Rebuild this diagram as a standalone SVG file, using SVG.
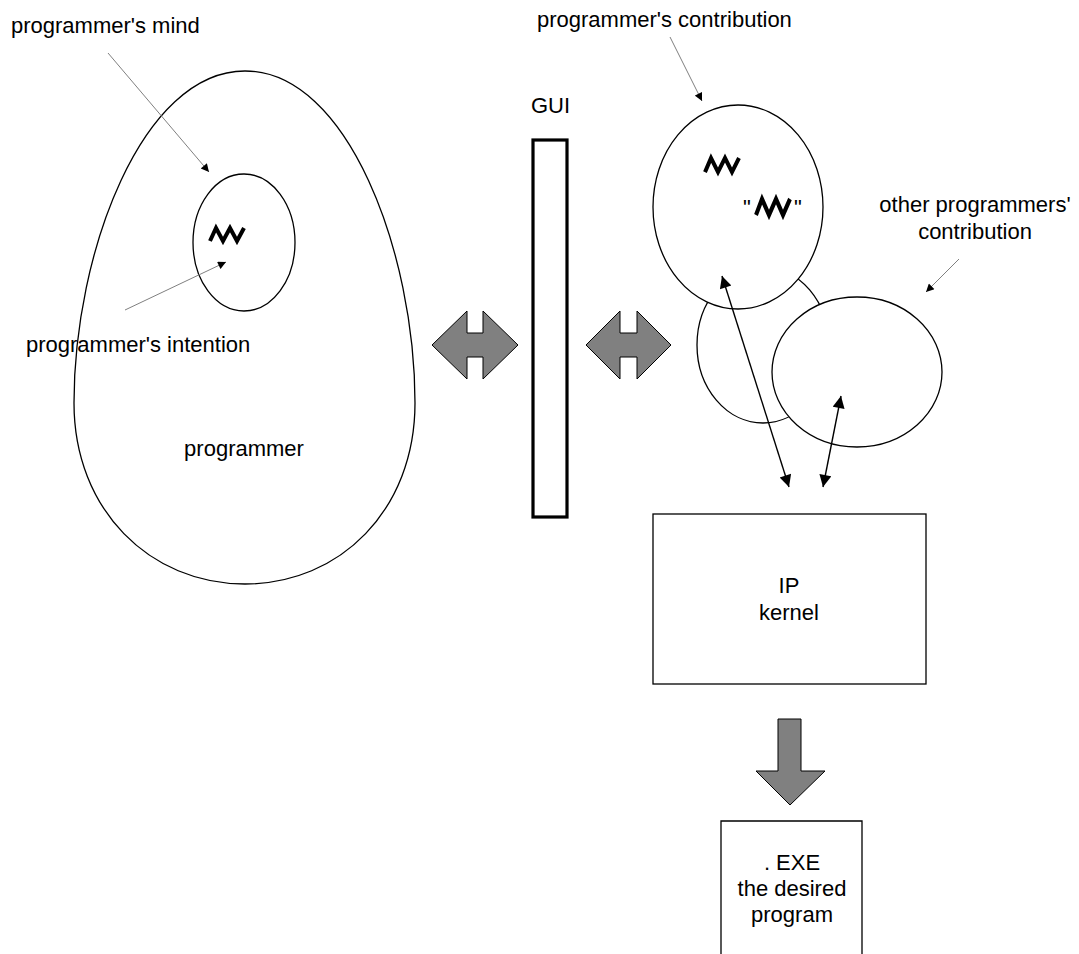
<svg xmlns="http://www.w3.org/2000/svg" width="1079" height="954" viewBox="0 0 1079 954">
<style>
text{font-family:"Liberation Sans",Arial,sans-serif;font-size:22px;fill:#000}
.mid{text-anchor:middle}
.shape{fill:#fff;stroke:#000;stroke-width:1.3}
.ptr{stroke:#808080;stroke-width:1;fill:none}
.dbl{stroke:#000;stroke-width:1.4;fill:none}
.block{fill:#808080;stroke:#000;stroke-width:1}
.zz{fill:none;stroke:#000;stroke-width:4;stroke-linejoin:miter;stroke-linecap:butt}
</style>
<defs>
<marker id="ah" viewBox="0 0 10 10" refX="10" refY="5" markerWidth="10" markerHeight="8" markerUnits="userSpaceOnUse" orient="auto-start-reverse">
<path d="M0,0 L10,5 L0,10 Z" fill="#000"/>
</marker>
<marker id="ahb" viewBox="0 0 10 10" refX="10" refY="5" markerWidth="15" markerHeight="12" markerUnits="userSpaceOnUse" orient="auto-start-reverse">
<path d="M0,0 L10,5 L0,10 Z" fill="#000"/>
</marker>
<polyline id="zzg" class="zz" points="0,13 6,0 13,13 20,0 27,13 34,0"/>
</defs>

<g id="programmer">
<path class="shape" d="M245,71 C348,71 415,253 415,403 C415,510 340,584 245,584 C150,584 74,510 74,403 C74,253 142,71 245,71 Z"/>
<text x="244" y="456" class="mid">programmer</text>
</g>

<g id="mind">
<ellipse class="shape" cx="244" cy="242.5" rx="51" ry="68.5"/>
<use href="#zzg" transform="translate(210,228)"/>
</g>

<g id="label-mind"><text x="11" y="33">programmer's mind</text></g>
<g id="label-intention"><text x="26" y="352">programmer's intention</text></g>

<g id="gui">
<rect x="533" y="140" width="34" height="377" fill="#fff" stroke="#000" stroke-width="3.2"/>
<text x="531" y="113">GUI</text>
</g>

<g id="arrow-left">
<polygon class="block" points="432,345 467,311 467,333 483,333 483,311 518,345 483,379 483,357 467,357 467,379"/>
</g>
<g id="arrow-right">
<polygon class="block" points="586,345 620,311 620,333 637,333 637,311 671,345 637,379 637,357 620,357 620,379"/>
</g>

<g id="shared-middle">
<ellipse class="shape" cx="763" cy="345" rx="66" ry="78"/>
</g>

<g id="contribution">
<ellipse class="shape" cx="738" cy="207" rx="85" ry="102"/>
<use href="#zzg" transform="translate(705,158) scale(1,1.08)"/>
<text x="743" y="215">"</text>
<use href="#zzg" transform="translate(756,199) scale(1,1.23)"/>
<text x="794" y="215">"</text>
</g>

<g id="other-contribution">
<ellipse class="shape" cx="857" cy="372" rx="85" ry="75"/>
</g>

<g id="label-contribution"><text x="537" y="27">programmer's contribution</text></g>
<g id="label-other">
<text x="975" y="212" class="mid">other programmers'</text>
<text x="975" y="239" class="mid">contribution</text>
</g>

<g id="kernel">
<rect x="653" y="514" width="273" height="170" class="shape"/>
<text x="789" y="593" class="mid">IP</text>
<text x="789" y="620" class="mid">kernel</text>
</g>

<g id="arrow-down">
<polygon class="block" points="778,719 801,719 801,771 825,771 790,805 756,771 778,771"/>
</g>

<g id="exe">
<path d="M721,954 L721,821 L862,821 L862,954" fill="#fff" stroke="#000" stroke-width="1.3"/>
<text x="792" y="870" class="mid">. EXE</text>
<text x="792" y="896" class="mid">the desired</text>
<text x="792" y="922" class="mid">program</text>
</g>

<g id="connectors">
<line class="ptr" x1="108" y1="53" x2="209" y2="172" marker-end="url(#ah)"/>
<line class="ptr" x1="125" y1="310" x2="226" y2="262" marker-end="url(#ah)"/>
<line class="ptr" x1="670" y1="37" x2="702" y2="101" marker-end="url(#ah)"/>
<line class="ptr" x1="959" y1="259" x2="926" y2="292" marker-end="url(#ah)"/>
<line class="dbl" x1="722" y1="276" x2="789" y2="487" marker-start="url(#ahb)" marker-end="url(#ahb)"/>
<line class="dbl" x1="841" y1="396" x2="823" y2="487" marker-start="url(#ahb)" marker-end="url(#ahb)"/>
</g>
</svg>
